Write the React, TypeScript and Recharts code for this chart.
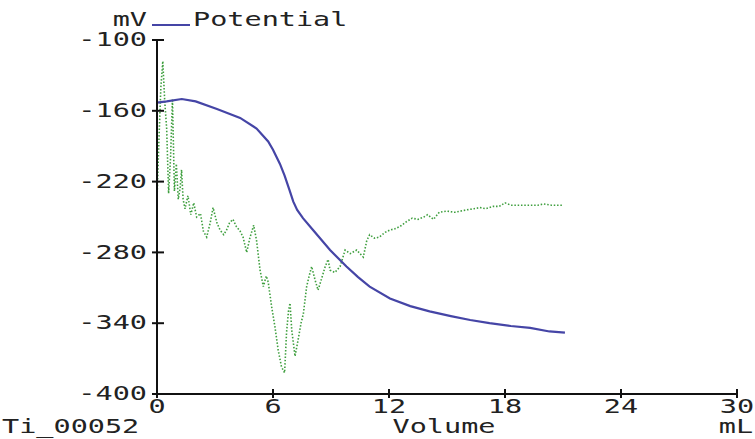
import React from 'react';
import { LineChart, Line, XAxis, YAxis } from 'recharts';

const potentialVolume = [0, 0.5, 1.28, 2.0, 3.1, 4.3, 5.15, 5.75, 6.0, 6.36, 6.6, 6.85, 7.05, 7.25, 7.55, 8.07, 8.95, 9.8, 10.4, 11.0, 12.05, 13.1, 14.1, 15.2, 16.2, 17.2, 18.3, 19.3, 20.3, 21.1];
const potentialValues = [-153, -152, -150, -152, -158.5, -166, -175, -186, -193, -205, -215, -227, -237, -244, -251, -261, -278, -292, -301, -309, -319, -325.5, -330, -334, -337.3, -340, -342.4, -344, -347, -348];

const derivVolume = [0.0, 0.1, 0.2, 0.3, 0.4, 0.5, 0.6, 0.7, 0.8, 0.9, 1.0, 1.1, 1.2, 1.27, 1.35, 1.45, 1.6, 1.75, 1.9, 2.05, 2.25, 2.4, 2.57, 2.75, 2.9, 3.1, 3.26, 3.45, 3.6, 3.75, 3.93, 4.1, 4.3, 4.45, 4.64, 4.8, 5.0, 5.15, 5.33, 5.5, 5.65, 5.75, 5.93, 6.1, 6.27, 6.44, 6.6, 6.7, 6.8, 6.88, 6.97, 7.14, 7.3, 7.45, 7.57, 7.74, 7.87, 8.0, 8.17, 8.33, 8.5, 8.7, 8.85, 8.95, 9.2, 9.47, 9.73, 10.0, 10.33, 10.67, 10.85, 11.0, 11.25, 11.5, 11.8, 12.05, 12.3, 12.57, 12.9, 13.2, 13.5, 13.8, 14.0, 14.3, 14.6, 15.0, 15.4, 15.7, 16.0, 16.4, 16.7, 17.0, 17.4, 17.7, 18.0, 18.3, 18.7, 19.0, 19.3, 19.7, 20.0, 20.4, 20.7, 21.0];
const derivValues = [-235, -185, -140, -118, -152, -175, -230, -200, -150, -228, -205, -235, -225, -210, -235, -243, -232, -248, -238, -250, -247, -262, -267, -255, -242, -255, -261, -265, -261, -255, -252, -258, -262, -267, -280, -268, -257, -270, -295, -309, -300, -305, -326, -343, -363, -377, -382, -348, -330, -323, -346, -368, -354, -340, -332, -309, -300, -292, -303, -312, -303, -292, -286, -295, -297, -292, -278, -281, -278, -284, -270, -265, -268, -267, -263, -261, -260, -258, -254, -251, -252, -250, -248, -252, -246, -245, -246, -245, -244, -243, -242, -243, -241, -241, -238, -240, -240, -240, -240, -240, -239, -240, -240, -240];

const xTicks = [0, 6, 12, 18, 24, 30];
const yTicks = [-400, -340, -280, -220, -160, -100];

const potentialData = potentialVolume.map((v, i) => ({ v, e: potentialValues[i] }));
const derivData = derivVolume.map((v, i) => ({ v, d: derivValues[i] }));

const FONT = '"DejaVu Sans Mono", "Liberation Mono", monospace';
const TXT = '#222';
const BLUE = '#4545a6';
const GREEN = '#3f9f3f';
const SX = 1.5;

const Label = ({ x, y, anchor, children }: any) => (
  <g transform={`translate(${x},${y})`}>
    <text transform={`scale(${SX},1)`} textAnchor={anchor} dominantBaseline="central" fontFamily={FONT} fontSize={19} fill={TXT}>
      {children}
    </text>
  </g>
);

const YTick = (props: any) => {
  const { x, y, payload } = props;
  return (
    <g>
      <line x1={x - 5} x2={x + 7} y1={y} y2={y} stroke="#111" strokeWidth={2} />
      <Label x={x - 10} y={y} anchor="end">{payload.value}</Label>
    </g>
  );
};

const XTick = (props: any) => {
  const { x, y, payload } = props;
  return (
    <g>
      <line x1={x} x2={x} y1={y - 5} y2={y + 4} stroke="#111" strokeWidth={2} />
      <Label x={x} y={y + 13} anchor="middle">{payload.value}</Label>
    </g>
  );
};

export default function App() {
  return (
    <div style={{ position: 'absolute', left: 0, top: 0, width: 755, height: 439, background: '#fff' }}>
      <LineChart width={755} height={439} margin={{ top: 40, right: 18, bottom: 0, left: 0 }}>
        <XAxis
          type="number"
          dataKey="v"
          domain={[0, 30]}
          ticks={xTicks}
          interval={0}
          height={45}
          tickSize={0}
          tickMargin={0}
          tickLine={false}
          axisLine={{ stroke: '#111', strokeWidth: 2 }}
          tick={<XTick />}
          allowDataOverflow
        />
        <YAxis
          type="number"
          domain={[-400, -100]}
          ticks={yTicks}
          interval={0}
          width={157}
          tickSize={0}
          tickMargin={0}
          tickLine={false}
          axisLine={{ stroke: '#111', strokeWidth: 2 }}
          tick={<YTick />}
          allowDataOverflow
        />
        <Line data={derivData} dataKey="d" type="linear" stroke={GREEN} strokeWidth={1.6} strokeDasharray="1.5 1.8" dot={false} isAnimationActive={false} />
        <Line data={potentialData} dataKey="e" type="linear" stroke={BLUE} strokeWidth={2.2} dot={false} isAnimationActive={false} />
      </LineChart>
      <svg width={755} height={439} style={{ position: 'absolute', left: 0, top: 0, pointerEvents: 'none' }}>
        <Label x={147} y={20} anchor="end">mV</Label>
        <line x1={152} x2={190} y1={25} y2={25} stroke={BLUE} strokeWidth={2} />
        <Label x={193} y={20} anchor="start">Potential</Label>
        <Label x={2} y={427} anchor="start">Ti_00052</Label>
        <Label x={444} y={427} anchor="middle">Volume</Label>
        <Label x={736} y={427} anchor="middle">mL</Label>
      </svg>
    </div>
  );
}
